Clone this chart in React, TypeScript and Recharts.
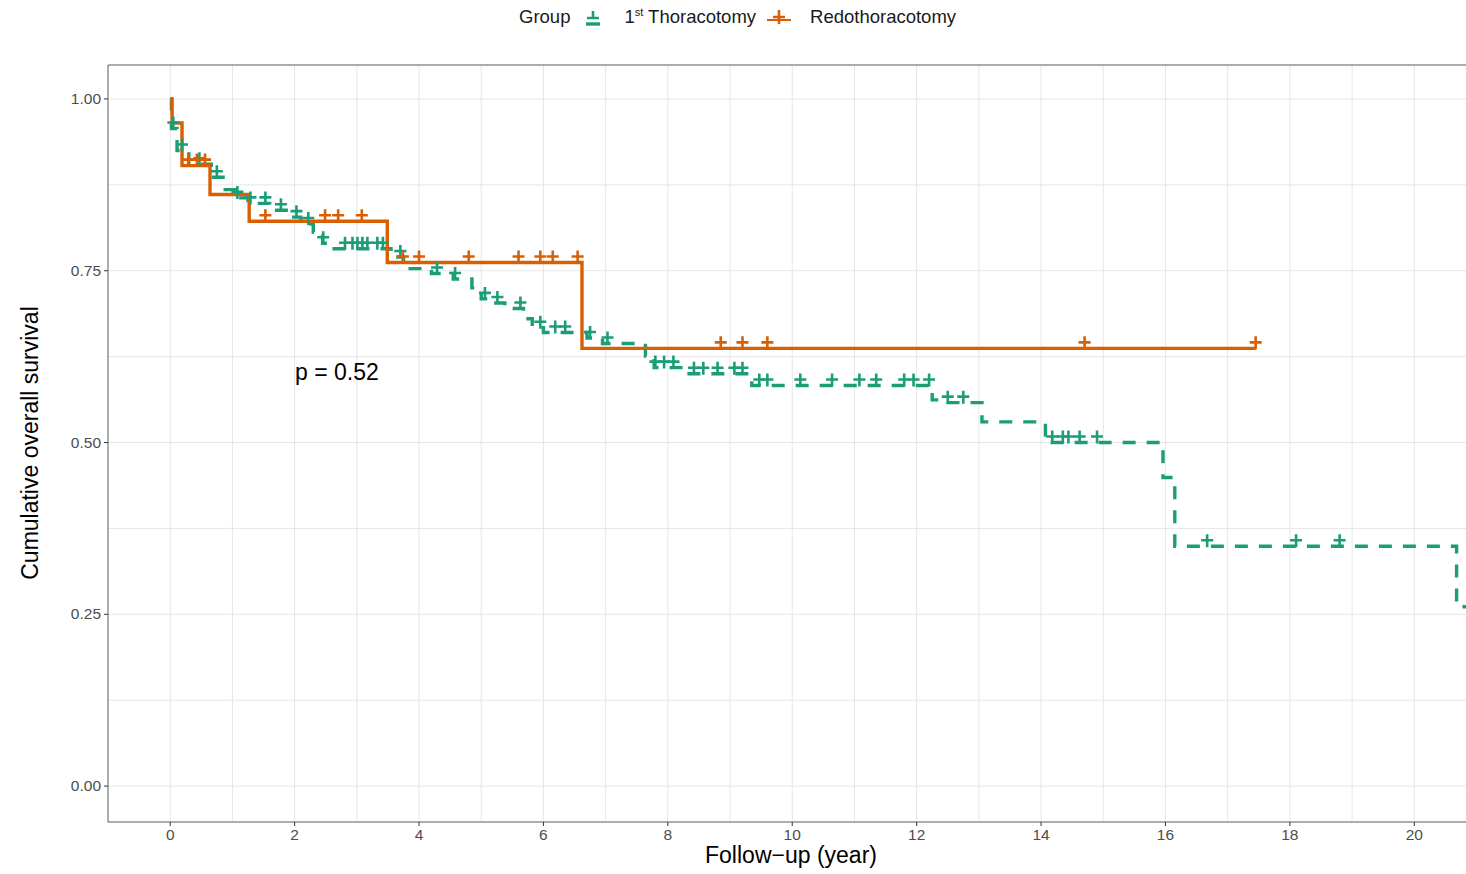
import React from "react";
import { LineChart, Line, XAxis, YAxis, CartesianGrid, ReferenceArea } from "recharts";

const xTicks = [0, 1, 2, 3, 4, 5, 6, 7, 8, 9, 10, 11, 12, 13, 14, 15, 16, 17, 18, 19, 20];
const yTicks = [0, 0.125, 0.25, 0.375, 0.5, 0.625, 0.75, 0.875, 1];
const xLabelled = [0, 2, 4, 6, 8, 10, 12, 14, 16, 18, 20];
const yLabelled = [0, 0.25, 0.5, 0.75, 1];

// 1st Thoracotomy (KM step curve)
const firstTime = [
  0, 0.02, 0.11, 0.3, 0.66, 0.85, 1.05, 1.25, 1.6, 1.9, 2.1, 2.3, 2.45, 2.6, 3.55, 3.75, 4.2, 4.55,
  4.85, 5.0, 5.2, 5.38, 5.68, 5.82, 6.0, 6.7, 6.95, 7.64, 7.78, 8.3, 9.35, 12.25, 12.4, 13.05, 14.07,
  15.96, 16.15, 20.68, 20.95,
];
const firstSurv = [
  1, 0.957, 0.925, 0.905, 0.886, 0.868, 0.856, 0.848, 0.838, 0.828, 0.818, 0.806, 0.79, 0.782, 0.77,
  0.753, 0.746, 0.738, 0.725, 0.709, 0.703, 0.695, 0.68, 0.667, 0.66, 0.652, 0.644, 0.626, 0.609, 0.6,
  0.583, 0.562, 0.558, 0.53, 0.5, 0.449, 0.349, 0.261, 0.261,
];
const firstCensor = [
  0.05, 0.19, 0.47, 0.75, 1.08, 1.29, 1.53, 1.78, 2.03, 2.22, 2.46, 2.81, 2.93, 3.01, 3.09, 3.17,
  3.33, 3.42, 3.7, 4.29, 4.58, 5.06, 5.26, 5.63, 5.95, 6.19, 6.35, 6.75, 7.03, 7.8, 7.94, 8.09, 8.42,
  8.57, 8.8, 9.07, 9.2, 9.47, 9.6, 10.13, 10.64, 11.08, 11.35, 11.8, 11.95, 12.2, 12.5, 12.75, 14.18,
  14.35, 14.44, 14.62, 14.9, 16.67, 18.1, 18.8,
];

// Redothoracotomy
const redoTime = [0, 0.03, 0.19, 0.64, 1.27, 3.49, 6.62, 17.45];
const redoSurv = [1, 0.965, 0.903, 0.861, 0.822, 0.762, 0.637, 0.637];
const redoCensor = [
  0.29, 0.43, 0.56, 1.53, 2.49, 2.7, 3.08, 3.74, 4.0, 4.8, 5.6, 5.95, 6.15, 6.55, 8.85, 9.2, 9.6,
  14.7, 17.45,
];

const GREEN = "#1B9E77";
const ORANGE = "#D95F02";
const FONT = "'Liberation Sans', Arial, sans-serif";

const toSteps = (time: number[], surv: number[]) => time.map((t, i) => ({ t, s: surv[i] }));

// survival level of the step curve at a censoring time
const levelAt = (time: number[], surv: number[], t: number) => {
  let s = surv[0];
  for (let i = 0; i < time.length; i++) if (time[i] <= t) s = surv[i];
  return s;
};
const toCensor = (time: number[], surv: number[], cens: number[]) =>
  cens.map((t) => ({ t, s: levelAt(time, surv, t) }));

const firstData = toSteps(firstTime, firstSurv);
const redoData = toSteps(redoTime, redoSurv);
const firstMarks = toCensor(firstTime, firstSurv, firstCensor);
const redoMarks = toCensor(redoTime, redoSurv, redoCensor);

const censorDot = (color: string) => (props: any) => {
  const { cx, cy, index } = props;
  if (cx == null || cy == null) return <g key={index} />;
  return (
    <path
      key={index}
      d={`M${cx - 6},${cy - 6}H${cx + 6}M${cx},${cy - 12}V${cy + 1}`}
      stroke={color}
      strokeWidth={2.6}
      fill="none"
    />
  );
};

const XTick = (props: any) => {
  const { x, y, payload } = props;
  if (!xLabelled.includes(payload.value)) return <g />;
  return (
    <g>
      <line x1={x} x2={x} y1={y - 7} y2={y - 3} stroke="#333" strokeWidth={1} />
      <text x={x} y={y + 11} textAnchor="middle" fontSize={15.5} fill="#4d4d4d" fontFamily={FONT}>
        {payload.value}
      </text>
    </g>
  );
};

const YTick = (props: any) => {
  const { x, y, payload } = props;
  if (!yLabelled.includes(payload.value)) return <g />;
  return (
    <g>
      <line x1={x + 3} x2={x + 7} y1={y} y2={y} stroke="#333" strokeWidth={1} />
      <text x={x} y={y + 5} textAnchor="end" fontSize={15.5} fill="#4d4d4d" fontFamily={FONT}>
        {Number(payload.value).toFixed(2)}
      </text>
    </g>
  );
};

export default function App() {
  return (
    <div
      style={{
        position: "absolute",
        left: 0,
        top: 0,
        width: 1466,
        height: 874,
        overflow: "hidden",
        background: "#fff",
        fontFamily: FONT,
      }}
    >
      <LineChart width={1480} height={874} margin={{ top: 65, right: 6, bottom: 22, left: 8 }}>
        <CartesianGrid stroke="#e6e6e6" strokeWidth={1} />
        <XAxis
          dataKey="t"
          type="number"
          domain={[-1, 20.96]}
          allowDataOverflow
          ticks={xTicks}
          interval={0}
          axisLine={false}
          tickLine={false}
          tickSize={4}
          tickMargin={3}
          height={30}
          tick={<XTick />}
        />
        <YAxis
          type="number"
          domain={[-0.0523, 1.0494]}
          allowDataOverflow
          ticks={yTicks}
          interval={0}
          axisLine={false}
          tickLine={false}
          tickSize={4}
          tickMargin={3}
          width={100}
          tick={<YTick />}
        />
        <ReferenceArea
          x1={-1}
          x2={20.96}
          y1={-0.0523}
          y2={1.0494}
          fill="none"
          stroke="#666"
          strokeWidth={1}
          ifOverflow="visible"
        />
        <Line
          data={firstData}
          dataKey="s"
          type="stepAfter"
          stroke={GREEN}
          strokeWidth={3.4}
          strokeDasharray="13 11"
          dot={false}
          activeDot={false}
          isAnimationActive={false}
        />
        <Line
          data={redoData}
          dataKey="s"
          type="stepAfter"
          stroke={ORANGE}
          strokeWidth={3.4}
          dot={false}
          activeDot={false}
          isAnimationActive={false}
        />
        <Line
          data={firstMarks}
          dataKey="s"
          stroke="none"
          strokeWidth={0}
          dot={censorDot(GREEN)}
          activeDot={false}
          isAnimationActive={false}
        />
        <Line
          data={redoMarks}
          dataKey="s"
          stroke="none"
          strokeWidth={0}
          dot={censorDot(ORANGE)}
          activeDot={false}
          isAnimationActive={false}
        />
      </LineChart>

      {/* legend */}
      <div
        style={{
          position: "absolute",
          top: 5,
          left: 519,
          display: "flex",
          alignItems: "center",
          fontSize: 18.5,
          color: "#1a1a1a",
          whiteSpace: "nowrap",
        }}
      >
        <span>Group</span>
        <svg width={30} height={24} style={{ marginLeft: 8 }}>
          <path d="M9,13H21M15,6V14" stroke={GREEN} strokeWidth={2.6} />
          <path d="M8,19H22" stroke={GREEN} strokeWidth={3.4} />
        </svg>
        <span style={{ marginLeft: 16 }}>
          1<sup style={{ fontSize: 11 }}>st</sup> Thoracotomy
        </span>
        <svg width={30} height={24} style={{ marginLeft: 8 }}>
          <path d="M3,15H27" stroke={ORANGE} strokeWidth={2} />
          <path d="M9,12H21M15,5V19" stroke={ORANGE} strokeWidth={2.6} />
        </svg>
        <span style={{ marginLeft: 16 }}>Redothoracotomy</span>
      </div>

      {/* p-value */}
      <div style={{ position: "absolute", left: 295, top: 359, fontSize: 23, color: "#000" }}>p = 0.52</div>

      {/* axis titles */}
      <div
        style={{
          position: "absolute",
          left: 791,
          top: 855,
          transform: "translate(-50%, -50%)",
          fontSize: 23,
          color: "#000",
          whiteSpace: "nowrap",
        }}
      >
        Follow−up (year)
      </div>
      <div
        style={{
          position: "absolute",
          left: 30,
          top: 443,
          transform: "translate(-50%, -50%) rotate(-90deg)",
          fontSize: 23,
          color: "#000",
          whiteSpace: "nowrap",
        }}
      >
        Cumulative overall survival
      </div>
    </div>
  );
}
